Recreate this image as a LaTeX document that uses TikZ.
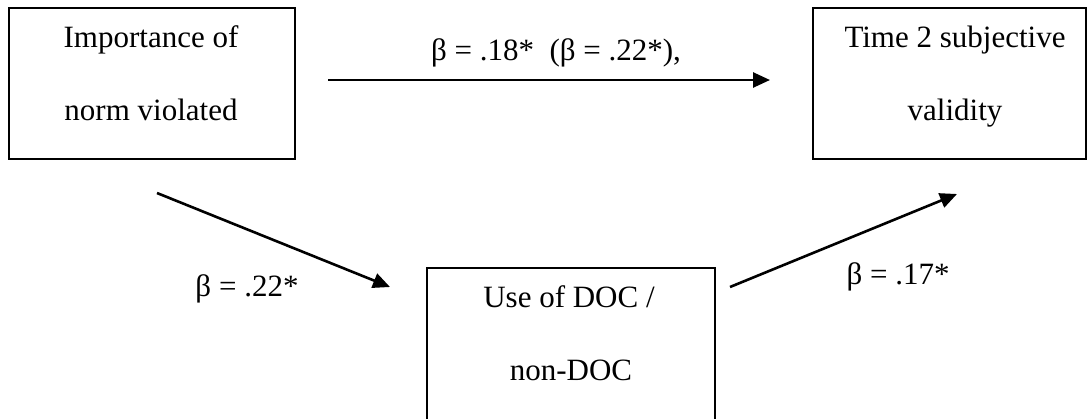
\documentclass[tikz,border=0pt]{standalone}
\usepackage{fontspec}
\setmainfont{Liberation Serif}
\usetikzlibrary{arrows.meta}
\begin{document}
\begin{tikzpicture}[x=1pt,y=-1pt,
  box/.style={draw,line width=1.8pt,inner sep=0pt,anchor=north west},
  txt/.style={anchor=base,inner sep=0pt,font=\fontsize{31}{36}\selectfont},
  conn/.style={line width=2.6pt,-{Triangle[length=17pt,width=15pt]}}]
\useasboundingbox (0,0) rectangle (1090,418);
\clip (0,0) rectangle (1090,418);
% boxes
\node[box,minimum width=286pt,minimum height=151pt] (imp) at (8,7) {};
\node[box,minimum width=273pt,minimum height=151pt] (val) at (812,7) {};
\node[box,minimum width=288pt,minimum height=158pt] (doc) at (426,267) {};
% box texts
\node[txt] (imp1) at (151,47) {Importance of};
\node[txt] (imp2) at (151,120) {norm violated};
\node[txt] (val1) at (955,47) {Time 2 subjective};
\node[txt] (val2) at (955,120) {validity};
\node[txt] (doc1) at (569,307) {Use of DOC /};
\node[txt] (doc2) at (571,380) {non-DOC};
% path labels
\node[txt] (ltop) at (556,60) {β = .18*\ \ (β = .22*),};
\node[txt] (lleft) at (247,296) {β = .22*};
\node[txt] (lright) at (898,284) {β = .17*};
% connector end points
\coordinate (a1) at (328,80);
\coordinate (a2) at (770,80);
\coordinate (b1) at (157,193);
\coordinate (b2) at (390,287);
\coordinate (c1) at (730,287);
\coordinate (c2) at (957,194);
\draw[conn] (a1) -- (a2);
\draw[conn] (b1) -- (b2);
\draw[conn] (c1) -- (c2);
\end{tikzpicture}
\end{document}
